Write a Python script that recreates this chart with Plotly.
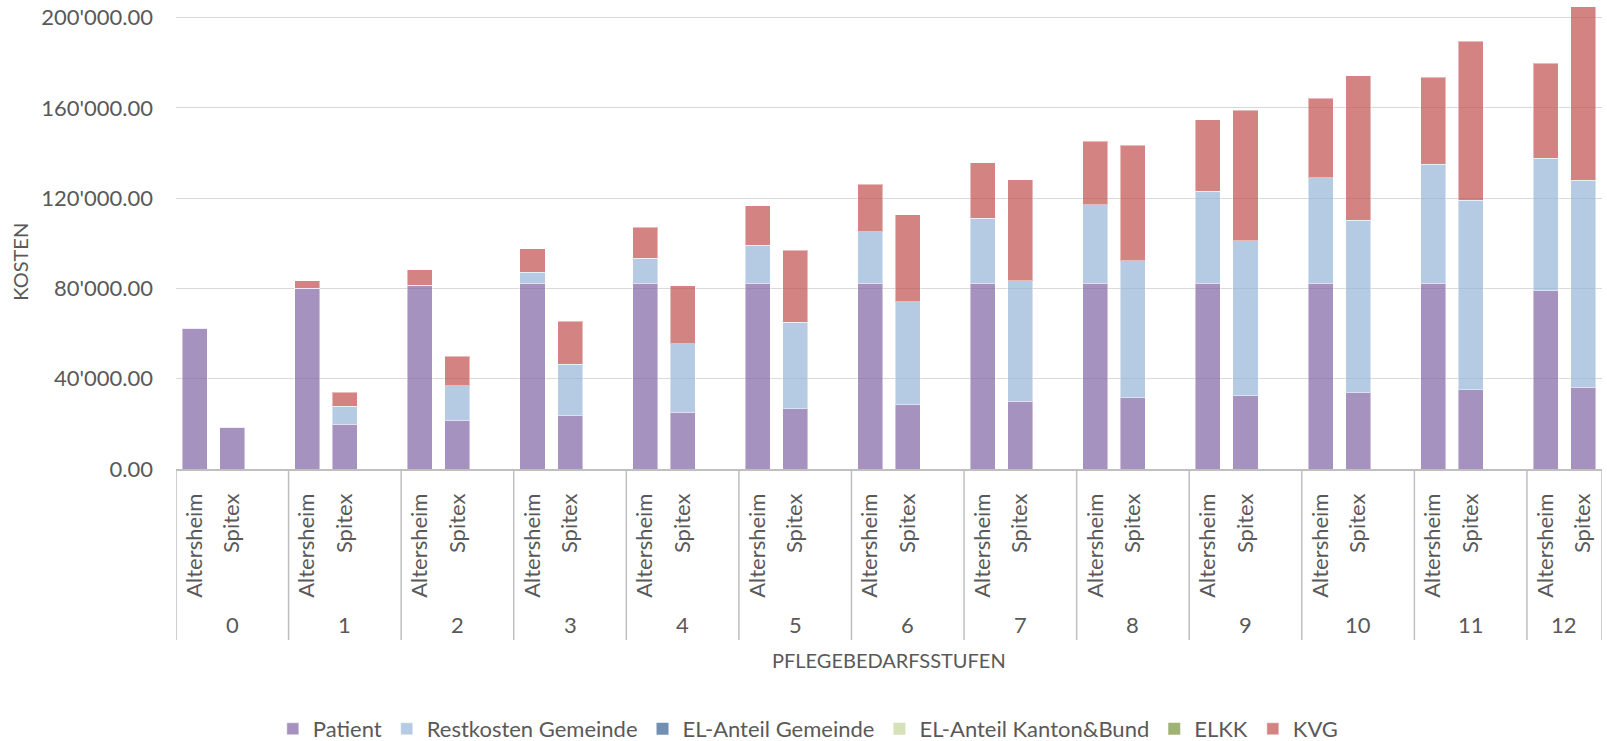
import plotly.graph_objects as go

# ---------------- data ----------------
stufen = ["0", "1", "2", "3", "4", "5", "6", "7", "8", "9", "10", "11", "12"]
settings = ["Altersheim", "Spitex"]

patient_altersheim = [62400, 80200, 81400, 82400, 82400, 82400, 82400, 82400, 82400, 82400, 82400, 82400, 78900]
patient_spitex = [18500, 19900, 21700, 23500, 25100, 26600, 28400, 30100, 31500, 32500, 33800, 35200, 36300]

restkosten_altersheim = [0, 0, 0, 4700, 10900, 16800, 22700, 28700, 34600, 40800, 46700, 52700, 58900]
restkosten_spitex = [0, 7850, 15200, 22900, 30400, 38400, 45800, 53300, 60700, 68700, 76400, 83900, 91600]

el_gemeinde_altersheim = [0] * 13
el_gemeinde_spitex = [0] * 13
el_kanton_bund_altersheim = [0] * 13
el_kanton_bund_spitex = [0] * 13
elkk_altersheim = [0] * 13
elkk_spitex = [0] * 13

kvg_altersheim = [0, 3250, 6800, 10600, 13900, 17400, 21100, 24700, 28200, 31600, 35200, 38600, 42100]
kvg_spitex = [0, 6200, 13000, 19050, 25700, 31900, 38400, 44800, 51300, 57800, 64000, 70500, 77000]

series_names = ["Patient", "Restkosten Gemeinde", "EL-Anteil Gemeinde",
                "EL-Anteil Kanton&Bund", "ELKK", "KVG"]
series_colors = ["rgba(128,100,162,0.7)", "rgba(149,179,215,0.7)", "rgba(55,96,146,0.7)",
                 "rgba(195,214,155,0.7)", "rgba(119,147,60,0.7)", "rgba(192,80,77,0.7)"]
series_data = [
    (patient_altersheim, patient_spitex),
    (restkosten_altersheim, restkosten_spitex),
    (el_gemeinde_altersheim, el_gemeinde_spitex),
    (el_kanton_bund_altersheim, el_kanton_bund_spitex),
    (elkk_altersheim, elkk_spitex),
    (kvg_altersheim, kvg_spitex),
]

y_tickvals = [0, 40000, 80000, 120000, 160000, 200000]
y_ticktext = ["0.00", "40'000.00", "80'000.00", "120'000.00", "160'000.00", "200'000.00"]

# ---------------- layout helpers ----------------
FONT = "Lato, 'Open Sans', sans-serif"
TXT = "#595959"
SLOTS = 3  # Altersheim, Spitex, empty slot per group

positions = []
labels = []
for g in range(len(stufen)):
    for k, s in enumerate(settings):
        positions.append(g * SLOTS + k)
        labels.append(s)

fig = go.Figure()
for name, color, (alt, spi) in zip(series_names, series_colors, series_data):
    vals = []
    for a, s in zip(alt, spi):
        vals.extend([a, s])
    nonzero = any(v != 0 for v in vals)
    fig.add_trace(go.Bar(
        x=positions, y=vals, name=name,
        marker=dict(color=color,
                    line=dict(color="rgba(255,255,255,0.45)", width=1 if nonzero else 0)),
    ))

n_slots = len(stufen) * SLOTS - 1
x_range = [-0.5, n_slots - 0.5]

shapes = []
div_bottom = -0.3646
for g in range(len(stufen)):
    shapes.append(dict(type="line", xref="x", yref="paper",
                       x0=g * SLOTS - 0.5, x1=g * SLOTS - 0.5, y0=0, y1=div_bottom,
                       line=dict(color="#bfbfbf", width=1.5)))
shapes.append(dict(type="line", xref="x", yref="paper",
                   x0=x_range[1], x1=x_range[1], y0=0, y1=div_bottom,
                   line=dict(color="#bfbfbf", width=1.5)))

annotations = []
for g, lab in enumerate(stufen):
    first = g * SLOTS - 0.5
    last = min(g * SLOTS + SLOTS - 0.5, x_range[1])
    annotations.append(dict(x=(first + last) / 2, y=-0.332, xref="x", yref="paper",
                            text=lab, showarrow=False, yanchor="middle",
                            font=dict(family=FONT, size=22, color=TXT)))
annotations.append(dict(x=0.5, y=-0.407, xref="paper", yref="paper",
                        text="PFLEGEBEDARFSSTUFEN", showarrow=False, yanchor="middle",
                        font=dict(family=FONT, size=20, color=TXT)))
annotations.append(dict(x=(20 - 176) / 1426, y=0.442, xref="paper", yref="paper",
                        text="KOSTEN", showarrow=False, textangle=-90,
                        xanchor="center", yanchor="middle",
                        font=dict(family=FONT, size=20, color=TXT)))

fig.update_layout(
    width=1607, height=741,
    margin=dict(l=176, r=5, t=0, b=272),
    paper_bgcolor="white", plot_bgcolor="white",
    barmode="stack", bargap=1 / 3,
    font=dict(family=FONT, color=TXT),
    showlegend=True,
    legend=dict(orientation="h", xref="container", yref="container",
                x=0.503, y=0.0162, xanchor="center", yanchor="middle",
                font=dict(family=FONT, size=22, color=TXT),
                traceorder="normal", itemclick=False),
    shapes=shapes,
    annotations=annotations,
    xaxis=dict(range=x_range, tickmode="array", tickvals=positions, ticktext=labels,
               tickangle=-90, tickfont=dict(family=FONT, size=22, color=TXT),
               showgrid=False, zeroline=False, showline=True,
               linecolor="#bfbfbf", linewidth=1.5, ticks="", ticklabelstandoff=14),
    yaxis=dict(range=[0, 207844], tickmode="array", tickvals=y_tickvals, ticktext=y_ticktext,
               tickfont=dict(family=FONT, size=22, color=TXT),
               showgrid=True, gridcolor="#d9d9d9", gridwidth=1.2,
               zeroline=False, showline=False, ticks="", ticklabelstandoff=22),
)

fig.write_html("out.html")
